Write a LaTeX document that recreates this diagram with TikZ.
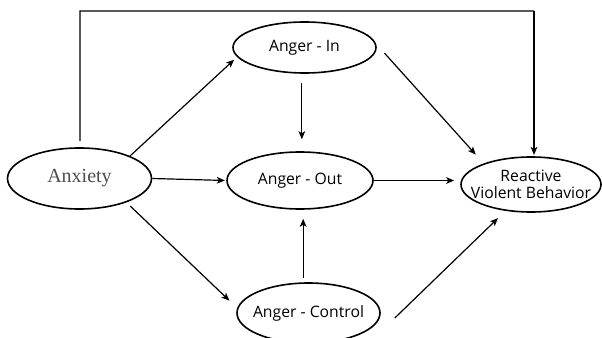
\documentclass[tikz,border=0pt]{standalone}
\usepackage{fontspec}
\setmainfont{Open Sans}
\newfontfamily\serifan{Liberation Serif}
\usetikzlibrary{positioning,shapes,arrows.meta,shapes.geometric}

\begin{document}
\begin{tikzpicture}[x=0.75pt,y=-0.75pt,
    var/.style={draw, line width=1.2pt, ellipse, inner sep=0pt, font=\fontsize{11.8}{12.5}\selectfont},
    link/.style={-{Stealth[length=6pt,width=5pt,inset=1.5pt]}, line width=0.9pt}]
                \useasboundingbox (0,0) rectangle (602,338);
                \node[var, minimum width=108pt, minimum height=45.75pt, font=\serifan\fontsize{15}{17}\selectfont, text=black!70] (anx) at (79.5,178.5) {Anxiety};
                \node[var, minimum width=107.25pt, minimum height=38.25pt] (ain) at (304.5,47.5) {Anger - In};
                \node[var, minimum width=109.5pt, minimum height=42.75pt] (aout) at (300,180.5) {Anger - Out};
                \node[var, minimum width=107.25pt, minimum height=45pt, inner xsep=-4pt] (actl) at (308.5,313) {Anger - Control};
                \node[var, minimum width=105pt, minimum height=41.25pt, inner xsep=-9pt, align=center] (rvb) at (531,184.5) {Reactive\\Violent Behavior};
                \coordinate (tl) at (80,11);
                \coordinate (tr) at (534,11);
                \draw[line width=0.9pt, shorten <=4.5pt] ([xshift=0.4pt]anx.north) -- (tl) -- (tr);
                \draw[link, shorten >=1pt] (tr) -- (tr |- rvb.north);
                \draw[link, shorten >=3pt] (anx.24) -- (ain.188);
                \draw[link, shorten >=1pt] (anx.east) -- (aout.west);
                \draw[link, shorten <=4pt, shorten >=8pt] (anx.-27) -- (actl.176);
                \draw[link, shorten <=6.75pt, shorten >=9pt] ([xshift=-2pt]ain.south) -- ([xshift=-2pt]ain.south |- aout.north);
                \draw[link, shorten <=9.4pt, shorten >=8.9pt] (ain.3) -- (rvb.156);
                \draw[link, shorten >=4.5pt] (aout.east) -- (aout.east -| rvb.west);
                \draw[link, shorten <=3pt, shorten >=6.75pt] ([xshift=-4pt]actl.north) -- ([xshift=-4pt]actl.north |- aout.south);
                \draw[link, shorten >=7.8pt] ([shift={(14,5)}]actl.east) -- (rvb.226);
            \end{tikzpicture}
\end{document}
